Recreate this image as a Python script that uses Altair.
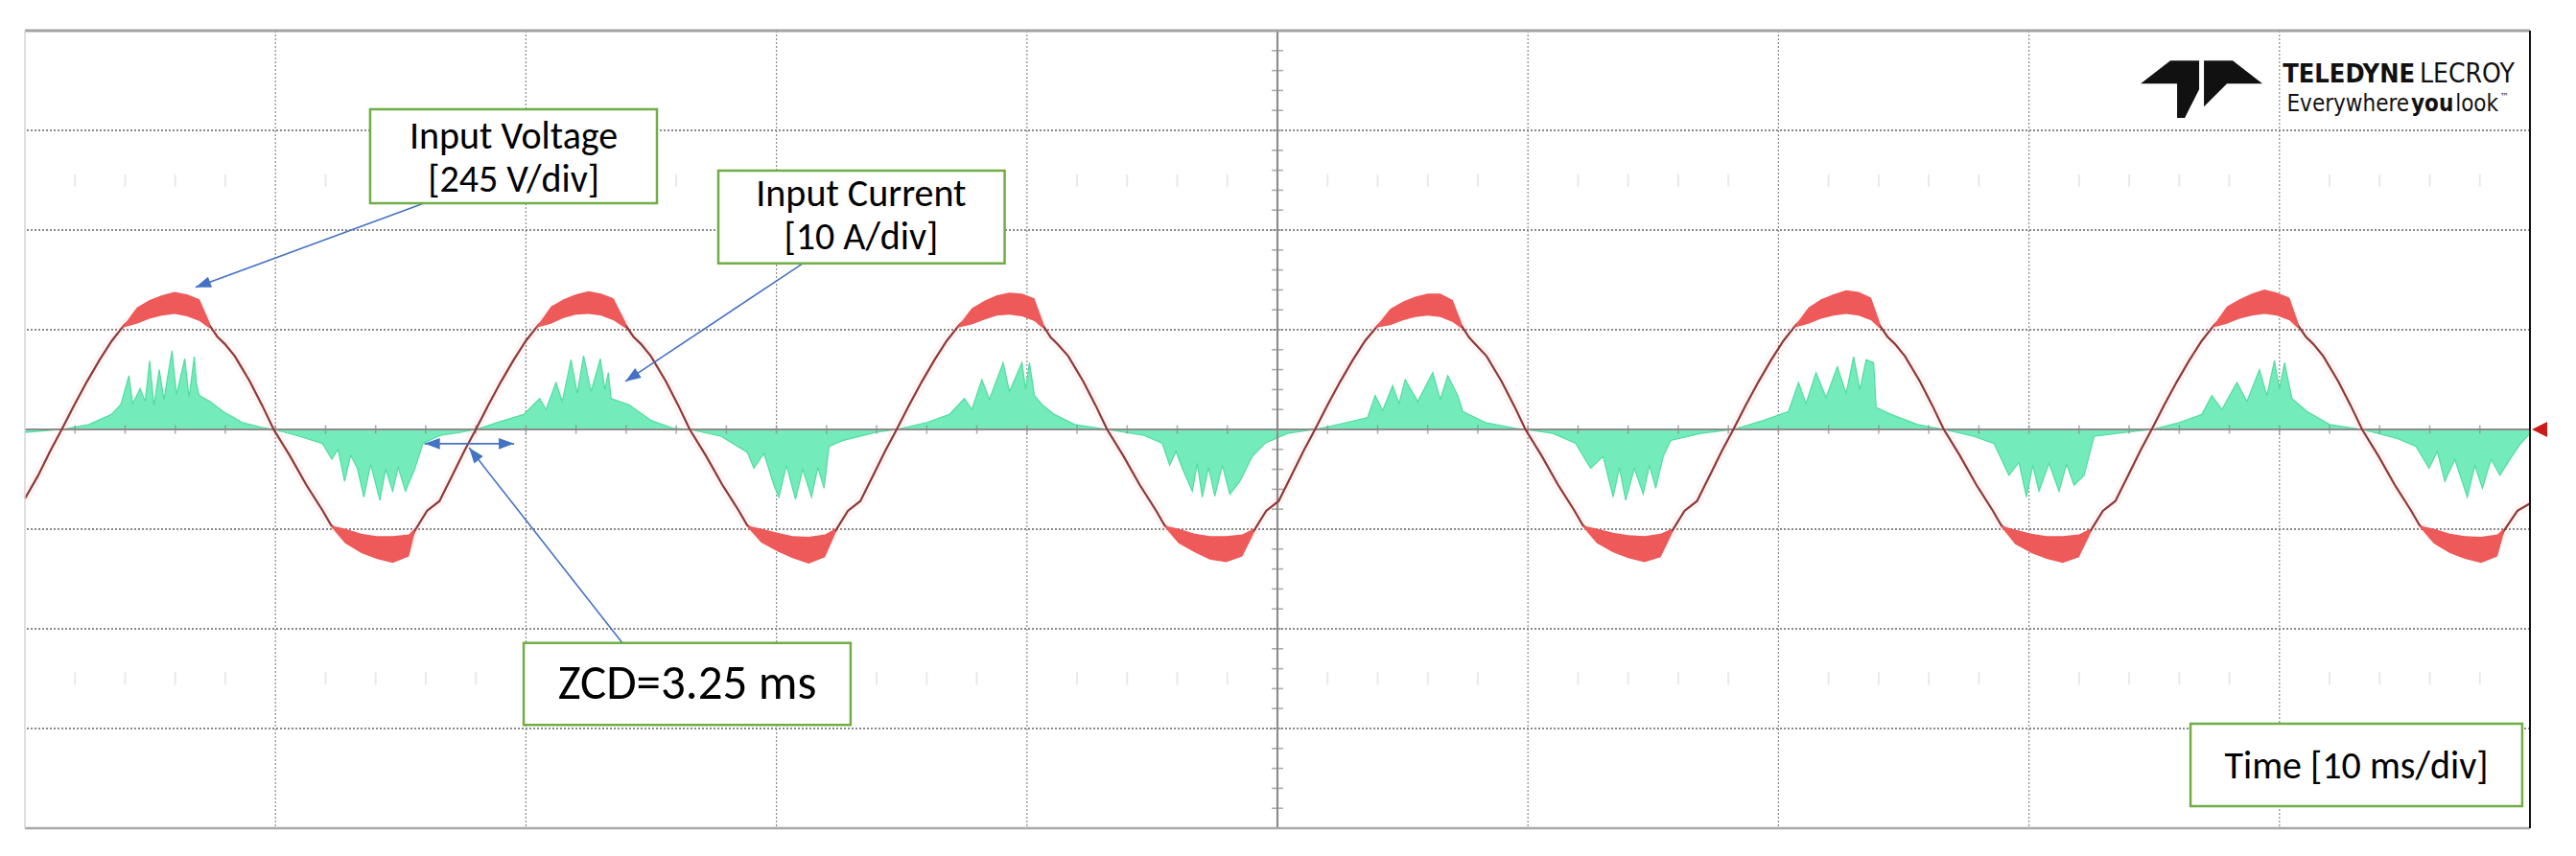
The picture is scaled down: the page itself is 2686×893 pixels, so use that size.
import math
import altair as alt
import pandas as pd

# ---------------- values read from the oscilloscope capture ----------------
# time in ms (10 ms/div), voltage in V (245 V/div), current in A (10 A/div)
volt_t = [0, 0.52, 1.02, 1.47,
          1.97, 2.47, 2.97, 3.47, 3.97, 4.47, 4.97, 5.47, 5.97, 6.47, 6.97, 7.38, 7.68, 7.98, 8.38, 8.98, 9.48, 9.93,
          10.58, 11.23, 11.88, 12.23, 12.78, 13.43, 14.03, 14.68, 15.33, 15.55, 16.05, 16.55, 17.05, 17.55, 18.0,
          18.5, 19.0, 19.5, 20.0, 20.5, 21.0, 21.5, 22.0, 22.5, 23.0, 23.5, 23.99, 24.29, 24.59, 24.99, 25.59, 26.09, 26.54,
          27.19, 27.84, 28.49, 28.84, 29.39, 30.04, 30.64, 31.29, 31.94, 32.35, 32.85, 33.35, 33.85, 34.35, 34.8,
          35.3, 35.8, 36.3, 36.8, 37.3, 37.8, 38.3, 38.8, 39.3, 39.8, 40.3, 40.65, 40.95, 41.25, 41.65, 42.25, 42.75, 43.2,
          43.85, 44.5, 45.15, 45.5, 46.05, 46.7, 47.3, 47.95, 48.6, 49.05, 49.55, 50.05, 50.55, 51.05, 51.5,
          52.0, 52.5, 53.0, 53.5, 54.0, 54.5, 55.0, 55.5, 56.0, 56.5, 57.0, 57.35, 57.65, 57.95, 58.35, 58.95, 59.45, 59.9,
          60.55, 61.2, 61.85, 62.2, 62.75, 63.4, 64.0, 64.65, 65.3, 65.75, 66.25, 66.75, 67.25, 67.75, 68.2,
          68.7, 69.2, 69.7, 70.2, 70.7, 71.2, 71.7, 72.2, 72.7, 73.2, 73.7, 74.05, 74.35, 74.65, 75.05, 75.65, 76.15, 76.6,
          77.25, 77.9, 78.55, 78.9, 79.45, 80.1, 80.7, 81.35, 82.0, 82.45, 82.95, 83.45, 83.95, 84.45, 84.9,
          85.4, 85.9, 86.4, 86.9, 87.4, 87.9, 88.4, 88.9, 89.4, 89.9, 90.4, 90.75, 91.05, 91.35, 91.75, 92.35, 92.85, 93.3,
          93.95, 94.6, 95.25, 95.6, 96.15, 96.8, 97.4, 98.05, 98.7, 98.95, 99.5, 100]
volt_v = [-170, -114, -52, 0,
          60, 117, 170, 218, 257, 283, 298, 306, 312, 306, 292, 255, 228, 210, 180, 118, 58, 0,
          -65, -136, -199, -236, -264, -283, -292, -293, -285, -250, -200, -176, -114, -52, 0,
          60, 117, 170, 218, 257, 284, 299, 308, 314, 308, 293, 255, 228, 210, 180, 118, 58, 0,
          -65, -136, -199, -236, -264, -284, -294, -296, -286, -250, -200, -176, -114, -52, 0,
          60, 117, 170, 218, 257, 282, 297, 305, 310, 307, 292, 255, 226, 208, 180, 118, 58, 0,
          -65, -136, -199, -236, -264, -283, -292, -292, -285, -250, -200, -176, -114, -52, 0,
          60, 117, 170, 218, 255, 279, 292, 300, 302, 300, 288, 255, 226, 206, 180, 118, 58, 0,
          -65, -136, -199, -236, -264, -283, -293, -294, -285, -250, -200, -176, -114, -52, 0,
          60, 117, 170, 218, 257, 284, 300, 308, 315, 310, 294, 255, 228, 210, 180, 118, 58, 0,
          -65, -136, -199, -236, -265, -284, -293, -293, -286, -250, -200, -176, -114, -52, 0,
          60, 117, 170, 218, 257, 284, 300, 310, 316, 310, 294, 255, 228, 210, 180, 118, 58, 0,
          -65, -136, -199, -236, -264, -283, -293, -295, -285, -250, -200, -182]

# noisy band around every voltage crest (inner / outer edge of the red smear)
band_t = [[3.87, 4.47, 4.97, 5.47, 5.97, 6.47, 6.97, 7.38],
          [12.18, 12.78, 13.43, 14.03, 14.68, 15.33, 15.55],
          [20.4, 21.0, 21.5, 22.0, 22.5, 23.0, 23.5, 23.99],
          [28.79, 29.39, 30.04, 30.64, 31.29, 31.94, 32.35],
          [37.2, 37.8, 38.3, 38.8, 39.3, 39.8, 40.3, 40.65],
          [45.45, 46.05, 46.7, 47.3, 47.95, 48.6, 49.05],
          [53.9, 54.5, 55.0, 55.5, 56.0, 56.5, 57.0, 57.35],
          [62.15, 62.75, 63.4, 64.0, 64.65, 65.3, 65.75],
          [70.6, 71.2, 71.7, 72.2, 72.7, 73.2, 73.7, 74.05],
          [78.85, 79.45, 80.1, 80.7, 81.35, 82.0, 82.45],
          [87.3, 87.9, 88.4, 88.9, 89.4, 89.9, 90.4, 90.75],
          [95.55, 96.15, 96.8, 97.4, 98.05, 98.7, 98.95]]
band_lo = [[250, 260, 272, 280, 284, 278, 266, 248],
           [-236, -244, -256, -262, -262, -258, -244],
           [250, 260, 274, 282, 284, 280, 268, 248],
           [-236, -244, -254, -262, -264, -258, -244],
           [250, 258, 270, 280, 282, 278, 266, 248],
           [-236, -244, -256, -262, -262, -258, -244],
           [250, 256, 268, 276, 280, 276, 264, 248],
           [-236, -244, -254, -260, -262, -256, -244],
           [250, 260, 272, 280, 284, 280, 268, 248],
           [-236, -246, -256, -262, -262, -258, -244],
           [250, 260, 272, 280, 284, 280, 268, 248],
           [-236, -244, -256, -262, -264, -258, -244]]
band_hi = [[250, 300, 318, 330, 338, 332, 320, 262],
           [-236, -280, -304, -318, -328, -312, -256],
           [250, 302, 320, 332, 340, 334, 322, 262],
           [-236, -278, -300, -316, -330, -314, -256],
           [250, 298, 316, 330, 336, 334, 322, 262],
           [-236, -280, -302, -320, -326, -312, -256],
           [250, 296, 314, 326, 334, 334, 318, 262],
           [-236, -280, -302, -316, -326, -314, -256],
           [250, 300, 320, 332, 342, 338, 324, 262],
           [-236, -282, -304, -318, -328, -314, -256],
           [250, 302, 320, 334, 344, 336, 324, 262],
           [-236, -280, -304, -318, -328, -312, -256]]

# input current envelope (A), spikes and notches as seen on the trace
cur_t = [0, 1.47,
         2.55, 3.45, 3.83, 4.15, 4.3, 4.6, 4.8, 4.98, 5.15, 5.36, 5.55, 5.87, 6.05, 6.38, 6.55, 6.76, 6.85, 6.96,
         7.4, 7.91, 8.68, 9.44, 9.95,
         10.97, 11.87, 12.25, 12.5, 12.76, 13.0, 13.27, 13.53, 13.8, 14.17, 14.4, 14.68, 14.9, 15.19, 15.57, 15.89,
         16.59, 17.36, 18.0,
         19.0, 19.91, 20.55, 20.8, 21.2, 21.45, 21.8, 22.05, 22.3, 22.6, 22.97, 23.15, 23.29, 23.4, 24.1, 25.0, 25.9,
         26.55,
         27.8, 28.84, 29.1, 29.5, 29.9, 30.1, 30.4, 30.76, 31.05, 31.4, 31.65, 31.9, 32.1, 32.67, 33.95, 34.8,
         36.0, 36.9, 37.5, 37.8, 38.2, 38.5, 39.05, 39.3, 39.8, 39.95, 40.1, 40.3, 40.6, 41.1, 41.9, 43.2,
         44.67, 45.4, 45.7, 45.95, 46.2, 46.6, 46.8, 47.0, 47.25, 47.5, 47.8, 48.1, 48.5, 49.0, 49.5, 50.4, 51.5,
         52.6, 53.6, 53.9, 54.2, 54.6, 54.85, 55.1, 55.6, 56.2, 56.5, 56.8, 57.2, 57.4, 58.3, 59.5, 59.9,
         61.0, 61.9, 62.5, 63.0, 63.4, 63.65, 63.9, 64.25, 64.6, 64.85, 65.1, 65.4, 65.7, 66.9, 68.2,
         69.4, 70.4, 70.8, 71.1, 71.5, 71.9, 72.35, 72.7, 73.0, 73.25, 73.5, 73.8, 73.9, 74.5, 75.55, 76.6,
         77.8, 78.6, 79.2, 79.6, 79.9, 80.15, 80.4, 80.8, 81.2, 81.5, 81.8, 82.2, 82.6, 83.5, 84.9,
         86.0, 86.9, 87.3, 87.7, 88.3, 88.7, 89.2, 89.5, 89.8, 90.0, 90.2, 90.5, 91.1, 92.0, 93.3,
         94.7, 95.45, 95.97, 96.3, 96.6, 97.0, 97.5, 97.8, 98.1, 98.45, 98.8, 99.2, 99.6, 100]
cur_a = [-0.3, 0,
         0.5, 1.5, 2.5, 5.4, 2.6, 4.1, 2.8, 6.9, 2.4, 6.0, 3.0, 7.9, 3.5, 7.1, 3.2, 7.3, 4.5, 3.4,
         2.8, 1.8, 0.7, 0.2, 0,
         -0.7, -1.4, -3.0, -2.0, -5.2, -2.6, -3.9, -6.8, -3.5, -7.1, -4.0, -6.2, -3.8, -6.2, -3.9, -1.4,
         -0.6, -0.3, 0,
         0.8, 1.5, 3.1, 2.0, 4.7, 2.8, 7.0, 3.6, 7.4, 3.8, 7.1, 4.0, 5.7, 3.1, 2.5, 0.9, 0.1,
         0,
         -0.7, -2.3, -3.9, -2.4, -5.6, -6.8, -3.6, -7.0, -4.0, -6.8, -3.8, -5.9, -1.7, -1.1, -0.3, 0,
         0.7, 1.5, 3.1, 2.0, 5.0, 3.0, 6.7, 3.8, 6.7, 4.0, 6.7, 3.4, 2.5, 1.5, 0.5, 0,
         -0.6, -1.4, -3.6, -2.2, -3.9, -6.2, -3.4, -6.8, -3.8, -6.7, -3.6, -6.5, -5.2, -2.7, -1.4, -0.4, 0,
         0.6, 1.2, 3.4, 1.9, 4.4, 2.6, 5.0, 2.8, 5.7, 3.0, 5.4, 3.4, 1.8, 0.7, 0.1, 0,
         -0.4, -1.4, -3.9, -2.7, -6.8, -3.8, -7.1, -3.9, -6.5, -3.6, -5.9, -2.7, -1.1, -0.4, 0,
         0.9, 1.8, 4.7, 2.6, 5.7, 3.2, 6.3, 3.6, 7.3, 4.0, 7.0, 6.7, 2.2, 1.5, 0.5, 0,
         -0.7, -1.4, -4.6, -3.3, -6.8, -3.6, -6.2, -3.4, -6.2, -3.5, -5.6, -4.6, -0.7, -0.4, 0,
         0.7, 1.5, 3.4, 2.0, 4.7, 2.8, 6.0, 3.4, 6.9, 4.0, 6.7, 3.1, 1.8, 0.5, 0,
         -0.9, -1.7, -3.9, -2.2, -5.2, -3.0, -6.8, -3.6, -5.9, -3.0, -4.6, -3.0, -1.5, -0.4]

# screen graticule (10 x 8 divisions)
grid_t = [10, 20, 30, 40, 60, 70, 80, 90]
grid_v = [-735, -490, -245, 245, 490, 735]
minor_t = [t for t in range(2, 100, 2) if t != 50]
minor_v = [v for v in range(-980, 981, 49) if v != 0]
ghost_t = [t for t in range(2, 100, 2) if t % 10]
ghost_v = [612, -612]

# annotations (in time / voltage units)
box_t1 = [13.78, 27.68, 19.91, 86.45]
box_t2 = [25.23, 39.11, 32.96, 99.69]
box_v1 = [556, 408, -726, -926]
box_v2 = [787, 636, -525, -723]
label_text = ["Input Voltage", "[245 V/div]", "Input Current", "[10 A/div]", "ZCD=3.25 ms", "Time [10 ms/div]"]
label_t = [19.51, 19.51, 33.38, 33.38, 26.44, 93.07]
label_v = [718, 612, 577, 471, -627, -830]
label_size = [40, 40, 40, 40, 51, 40]
arrow_t1 = [15.93, 31.05, 23.85, 17.74, 17.74]
arrow_v1 = [556, 408, -525, -35, -35]
arrow_t2 = [6.81, 23.97, 17.73, 15.95, 19.53]
arrow_v2 = [349, 118, -45, -35, -35]

logo_t, logo_v = 86.89, 836
logo_words = ["TELEDYNE", "LECROY", "Everywhere", "you", "look", "\u2122"]
logo_word_t = [95.41, 95.60, 95.18, 96.10, 97.02, 98.81]
logo_word_v = [853, 853, 782, 782, 782, 810]

# ---------------- chart ----------------
W, H = 2612, 832
XS = alt.Scale(domain=[0, 100], nice=False, zero=False)
YS = alt.Scale(domain=[-980, 980], nice=False, zero=False)
FONT = "Carlito, Lato, 'Open Sans', sans-serif"
LOGO_FONT = "'DejaVu Sans Condensed', 'DejaVu Sans', sans-serif"
GRID = "#8a8a8a"


def X(f):
    return alt.X(f, type="quantitative", scale=XS, axis=None)


def Y(f):
    return alt.Y(f, type="quantitative", scale=YS, axis=None)


assert len(volt_t) == len(volt_v)
assert len(cur_t) == len(cur_a)

volt_df = pd.DataFrame({"t": volt_t, "v": volt_v})
rows = []
for i, (ts, los, his) in enumerate(zip(band_t, band_lo, band_hi)):
    assert len(ts) == len(los) == len(his)
    for t, lo, hi in zip(ts, los, his):
        rows.append({"id": i, "t": t, "lo": lo, "hi": hi})
band_df = pd.DataFrame(rows)
cur_df = pd.DataFrame({"t": cur_t, "a": cur_a})

ghost_df = pd.DataFrame([{"t": t, "v": v} for v in ghost_v for t in ghost_t])
ghost = alt.Chart(ghost_df).mark_tick(orient="vertical", size=13, thickness=2, color="#e0e0e0").encode(
    x=X("t"), y=Y("v"))

vgrid = alt.Chart(pd.DataFrame({"t": grid_t})).mark_rule(
    color=GRID, strokeDash=[2, 2], strokeWidth=1.2).encode(x=X("t"))
hgrid = alt.Chart(pd.DataFrame({"v": grid_v})).mark_rule(
    color=GRID, strokeDash=[2, 2], strokeWidth=1.8).encode(y=Y("v"))

current = alt.Chart(cur_df).transform_calculate(v="datum.a * 24.5", v0="0").mark_area(
    color="#74EBBA", opacity=1, line={"color": "#52DCA0", "strokeWidth": 1.2}).encode(
    x=X("t"), y=Y("v"), y2=alt.Y2("v0"))

zero_line = alt.Chart(pd.DataFrame({"v": [0]})).mark_rule(color="#8c8c8c", strokeWidth=2.2).encode(y=Y("v"))
center_line = alt.Chart(pd.DataFrame({"t": [50]})).mark_rule(color="#8c8c8c", strokeWidth=2.2).encode(x=X("t"))
zero_ticks = alt.Chart(pd.DataFrame({"t": minor_t, "v": [0] * len(minor_t)})).mark_tick(
    orient="vertical", size=9, thickness=1.6, color="#8c8c8c").encode(x=X("t"), y=Y("v"))
center_ticks = alt.Chart(pd.DataFrame({"t": [50] * len(minor_v), "v": minor_v})).mark_tick(
    orient="horizontal", size=12, thickness=1.6, color="#8c8c8c").encode(x=X("t"), y=Y("v"))

volt_halo = alt.Chart(volt_df).mark_line(color="#F07070", strokeWidth=10, opacity=0.07).encode(x=X("t"), y=Y("v"))
volt_line = alt.Chart(volt_df).mark_line(color="#8E3838", strokeWidth=2.2).encode(x=X("t"), y=Y("v"))
volt_band = alt.Chart(band_df).mark_area(color="#EE5A5A", opacity=1).encode(
    x=X("t"), y=Y("lo"), y2=alt.Y2("hi"), detail="id:N")

top_border = alt.Chart(pd.DataFrame({"v": [980]})).mark_rule(color="#a3a3a3", strokeWidth=3).encode(y=Y("v"))
bottom_border = alt.Chart(pd.DataFrame({"v": [-980]})).mark_rule(color="#a8a8a8", strokeWidth=2.5).encode(y=Y("v"))
left_border = alt.Chart(pd.DataFrame({"t": [0]})).mark_rule(color="#d4d4d4", strokeWidth=1.5).encode(x=X("t"))
right_border = alt.Chart(pd.DataFrame({"t": [100]})).mark_rule(color="#111111", strokeWidth=2).encode(x=X("t"))

box_df = pd.DataFrame({"t1": box_t1, "t2": box_t2, "v1": box_v1, "v2": box_v2})
boxes = alt.Chart(box_df).mark_rect(fill="white", stroke="#70AD47", strokeWidth=2.5).encode(
    x=X("t1"), x2=alt.X2("t2"), y=Y("v1"), y2=alt.Y2("v2"))

px_t, px_v = W / 100.0, H / 1960.0
angles = [math.degrees(math.atan2((b - a) * px_t, (d - c) * px_v)) % 360
          for a, b, c, d in zip(arrow_t1, arrow_t2, arrow_v1, arrow_v2)]
arrow_df = pd.DataFrame({"t1": arrow_t1, "t2": arrow_t2, "v1": arrow_v1, "v2": arrow_v2, "ang": angles})
arrow_lines = alt.Chart(arrow_df).mark_rule(color="#4472C4", strokeWidth=1.6).encode(
    x=X("t1"), x2=alt.X2("t2"), y=Y("v1"), y2=alt.Y2("v2"))
HEAD = "M0,0 L0.55,1.5 L-0.55,1.5 Z"
arrow_heads = alt.Chart(arrow_df).mark_point(shape=HEAD, filled=True, size=460, color="#4472C4", opacity=1).encode(
    x=X("t2"), y=Y("v2"), angle=alt.Angle("ang:Q", scale=None))

label_df = pd.DataFrame({"txt": label_text, "t": label_t, "v": label_v, "fs": label_size})
labels = alt.Chart(label_df).mark_text(font=FONT, align="center", baseline="middle", color="#000000").encode(
    x=X("t"), y=Y("v"), text="txt:N", size=alt.Size("fs:Q", scale=None))

# Teledyne LeCroy mark drawn as a symbol path (local 127 x 60 px box)
logo_polys = [[(0, 24), (31, 0), (61, 0), (61, 24)],
              [(66, 0), (96, 0), (127, 24), (66, 24)],
              [(38, 24), (61, 24), (61, 30), (46, 60), (38, 60)],
              [(66, 24), (90, 24), (66, 48)]]
path = ""
for poly in logo_polys:
    pts = ["%.4f,%.4f" % ((x - 63.5) / 63.5, (y - 30) / 63.5) for x, y in poly]
    path += "M" + " L".join(pts) + " Z "
logo_sym = alt.Chart(pd.DataFrame({"t": [logo_t], "v": [logo_v]})).mark_point(
    shape=path.strip(), filled=True, size=127 * 127, color="#111111", opacity=1).encode(x=X("t"), y=Y("v"))

lw = pd.DataFrame({"w": logo_words, "t": logo_word_t, "v": logo_word_v})


def logo_text(idx, size, align, bold=False):
    return alt.Chart(lw.iloc[idx]).mark_text(
        font=LOGO_FONT, fontSize=size, fontWeight="bold" if bold else "normal", align=align,
        baseline="alphabetic", color="#111111").encode(x=X("t"), y=Y("v"), text="w:N")


logo_a = logo_text([0], 27, "right", True)
logo_b = logo_text([1], 28, "left")
logo_c = logo_text([2], 24, "right")
logo_d = logo_text([3], 24, "center", True)
logo_e = logo_text([4], 24, "left")
logo_f = logo_text([5], 10, "left")

marker = alt.Chart(pd.DataFrame({"t": [100], "v": [0]})).mark_point(
    shape="M0,0 L2,-1 L2,1 Z", filled=True, size=256, color="#CC1B1B", opacity=1, xOffset=2).encode(
    x=X("t"), y=Y("v"))

chart = alt.layer(
    ghost, vgrid, hgrid, current, zero_line, center_line, zero_ticks, center_ticks,
    volt_halo, volt_line, volt_band,
    top_border, bottom_border, left_border, right_border,
    arrow_lines, arrow_heads, boxes, labels,
    logo_sym, logo_a, logo_b, logo_c, logo_d, logo_e, logo_f, marker,
).properties(
    width=W, height=H,
    padding={"left": 18, "top": 24, "right": 40, "bottom": 21},
    autosize=alt.AutoSizeParams(type="none"),
    background="white",
).configure_view(stroke=None)

chart.save("out.html", embed_options={"renderer": "svg", "actions": False})
